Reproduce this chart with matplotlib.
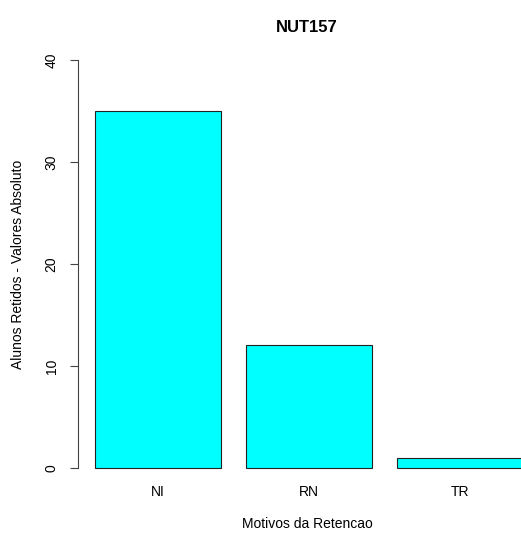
import matplotlib
matplotlib.use("Agg")
import matplotlib.pyplot as plt

categories = ["NI", "RN", "TR"]
values = [35, 12, 1]
yticks = [0, 10, 20, 30, 40]

plt.rcParams["font.family"] = ["Liberation Sans", "DejaVu Sans"]

W, H = 521, 534
fig = plt.figure(figsize=(W / 100, H / 100), dpi=100)
# plot region in pixels (R style): x 78..540, y 44..484
ax = fig.add_axes([78 / W, (H - 484) / H, (540 - 78) / W, (484 - 44) / H])

centers = [0.7 + 1.2 * i for i in range(len(categories))]
ax.bar(centers, values, width=1.0, color="#00FFFF", edgecolor="#222222", linewidth=0.8)

ax.set_xlim(0.064, 3.736)
ax.set_ylim(-1.6, 41.6)

for s in ["top", "right", "bottom"]:
    ax.spines[s].set_visible(False)
ax.spines["left"].set_bounds(0, 40)
ax.spines["left"].set_color("#444444")
ax.spines["left"].set_linewidth(0.8)

ax.set_yticks(yticks)
ax.set_yticklabels([str(t) for t in yticks], rotation=90, va="center", fontsize=10)
ax.tick_params(axis="y", length=6, width=0.8, color="#444444", pad=8)

ax.set_xticks(centers)
ax.set_xticklabels(categories, fontsize=10)
ax.tick_params(axis="x", length=0, pad=1)

fig.text(307 / W, 1 - 27 / H, "NUT157", ha="center", va="center", fontsize=12, fontweight="bold")
fig.text(307 / W, 1 - 524 / H, "Motivos da Retencao", ha="center", va="center", fontsize=10)
fig.text(18 / W, 1 - 264 / H, "Alunos Retidos - Valores Absoluto", ha="center", va="center",
         rotation=90, fontsize=10)

plt.savefig("out.png", dpi=100)
